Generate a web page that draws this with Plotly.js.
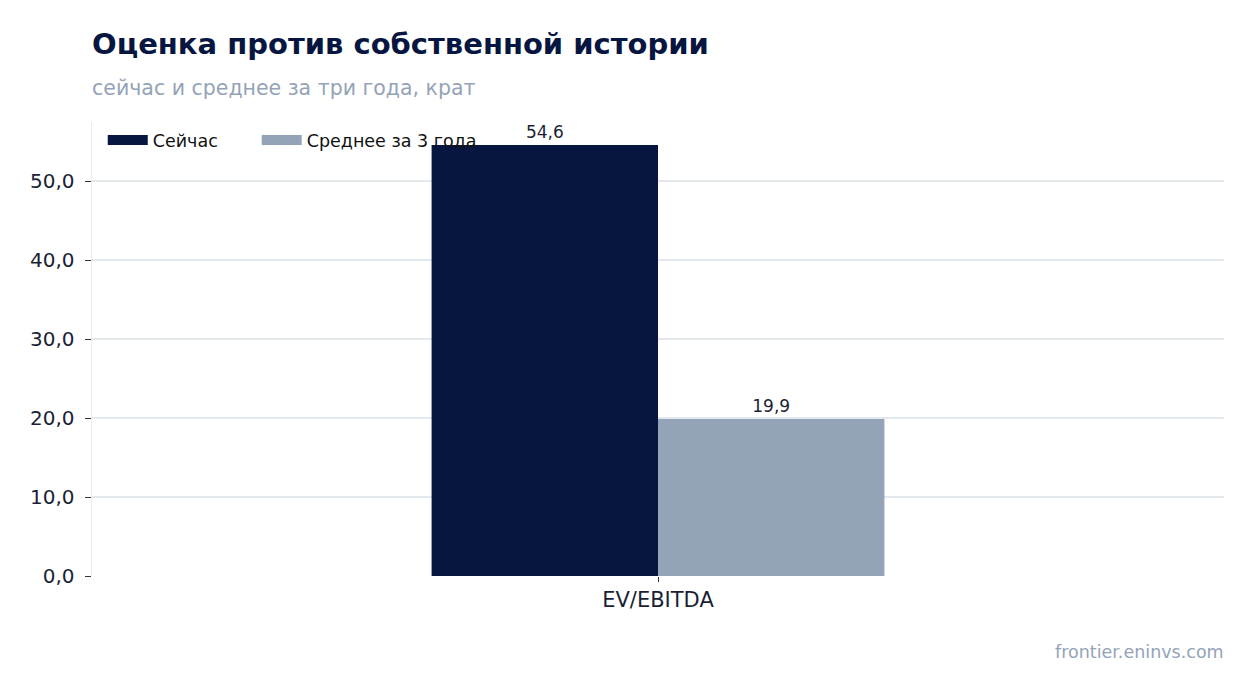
<!DOCTYPE html>
<html>
<head>
<meta charset="utf-8">
<script src="https://cdn.plot.ly/plotly-3.0.1.min.js"></script>
<style>
  html, body { margin: 0; padding: 0; background: #ffffff; }
  #gd { width: 1254px; height: 693px; }
</style>
</head>
<body>
<div id="gd"></div>
<script>
const categories = ['EV/EBITDA'];
const nowValues = [54.6];
const avgValues = [19.9];
const seriesNames = ['Сейчас', 'Среднее за 3 года'];
const seriesColors = ['#061640', '#94a3b8'];

const fontFamily = 'DejaVu Sans, Verdana, sans-serif';

function labels(values) {
    return values.map(v => v.toFixed(1).replace('.', ','));
}

function barTrace(values, i) {
    return {
        x: categories,
        y: values,
        name: seriesNames[i],
        type: 'bar',
        text: labels(values),
        textposition: 'outside',
        constraintext: 'none',
        cliponaxis: false,
        textfont: {family: fontFamily, size: 17, color: '#1a1f36'},
        marker: {color: seriesColors[i]},
        showlegend: false,
        hoverinfo: 'skip'
    };
}

// legend-only entries drawn as thick strokes (wide swatches), one legend each
function legendTrace(i) {
    return {
        x: categories,
        y: [null],
        name: seriesNames[i],
        type: 'scatter',
        mode: 'lines',
        line: {color: seriesColors[i], width: 12},
        showlegend: true,
        legend: i === 0 ? 'legend' : 'legend2',
        hoverinfo: 'skip'
    };
}

let data = [
    barTrace(nowValues, 0),
    barTrace(avgValues, 1),
    legendTrace(0),
    legendTrace(1)
];

function legendAt(x) {
    return {
        orientation: 'h',
        x: x,
        xanchor: 'left',
        y: 1,
        yanchor: 'top',
        bgcolor: 'rgba(0,0,0,0)',
        font: {family: fontFamily, size: 17.5, color: '#111111'},
        itemwidth: 40
    };
}

let layout = {
    width: 1254,
    height: 693,
    paper_bgcolor: '#ffffff',
    plot_bgcolor: '#ffffff',
    font: {family: fontFamily, color: '#1a1f36'},
    separators: ', ',
    barmode: 'group',
    bargap: 0.6,
    bargroupgap: 0,
    showlegend: true,
    margin: {l: 92, r: 30, t: 122, b: 117, pad: 0},
    title: {
        text: 'Оценка против собственной истории',
        font: {family: fontFamily, size: 29, color: '#061640', weight: 'bold'},
        x: 92 / 1254,
        xanchor: 'left',
        y: 1 - 44 / 693,
        yanchor: 'middle'
    },
    xaxis: {
        type: 'category',
        showgrid: false,
        zeroline: false,
        showline: false,
        ticks: 'outside',
        ticklen: 5,
        tickcolor: '#333333',
        tickfont: {family: fontFamily, size: 21, color: '#1a1f36'}
    },
    yaxis: {
        range: [0, 57.5],
        tickvals: [0, 10, 20, 30, 40, 50],
        tickformat: '.1f',
        showgrid: true,
        gridcolor: '#e3e7ee',
        gridwidth: 1.5,
        zeroline: false,
        showline: true,
        linecolor: '#e8ebf1',
        linewidth: 1.5,
        ticks: 'outside',
        ticklen: 6,
        tickcolor: '#333333',
        ticklabelstandoff: 6,
        tickfont: {family: fontFamily, size: 20, color: '#1a1f36'}
    },
    legend: legendAt(0.0095),
    legend2: legendAt(0.1455),
    annotations: [
        {
            text: 'сейчас и среднее за три года, крат',
            xref: 'paper', yref: 'paper',
            x: -0.002, xanchor: 'left',
            y: 1 + (122 - 88) / 454, yanchor: 'middle',
            showarrow: false,
            font: {family: fontFamily, size: 20.5, color: '#94a3b8'}
        },
        {
            text: 'frontier.eninvs.com',
            xref: 'paper', yref: 'paper',
            x: 1.002, xanchor: 'right',
            y: -(652 - 576) / 454, yanchor: 'middle',
            showarrow: false,
            font: {family: fontFamily, size: 17.5, color: '#94a3b8'}
        }
    ]
};

Plotly.newPlot('gd', data, layout, {displayModeBar: false, staticPlot: true});
</script>
</body>
</html>
